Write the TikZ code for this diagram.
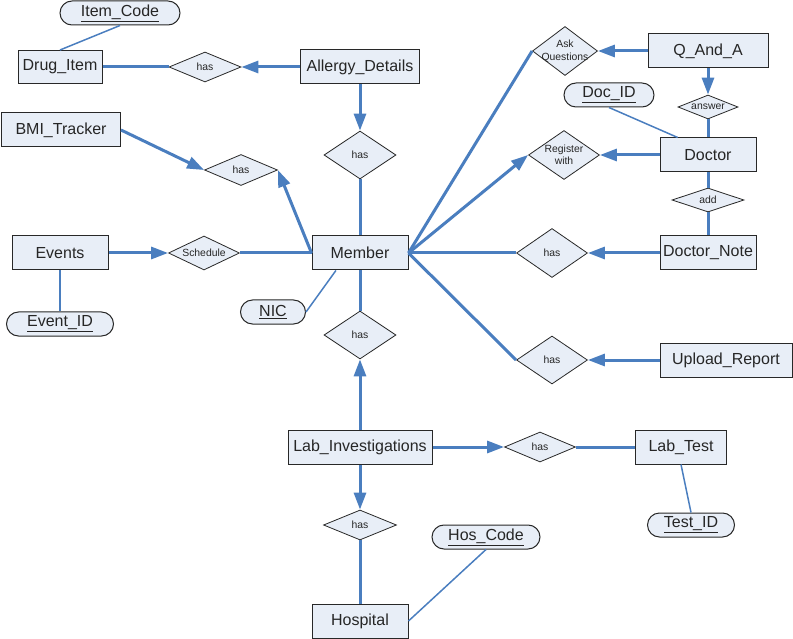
\documentclass[tikz,border=0pt]{standalone}
\usepackage{fontspec}
\setmainfont{Liberation Sans}
\usetikzlibrary{shapes.geometric,arrows.meta}
\definecolor{erline}{RGB}{74,126,191}
\definecolor{erfill}{RGB}{232,238,247}
\definecolor{erborder}{RGB}{40,40,40}

\begin{document}
\begin{tikzpicture}[x=1pt,y=-1pt,
  entity/.style={draw=erborder,fill=erfill,line width=1pt,minimum height=34pt,inner sep=2pt,font=\fontsize{16}{19}\selectfont,text=black!85},
  attrib/.style={draw=erborder,fill=erfill,line width=1pt,rounded corners=12pt,minimum height=24pt,inner sep=2pt,font=\fontsize{16}{19}\selectfont,text=black!85},
  rel/.style={diamond,draw=erborder,fill=erfill,line width=0.8pt,inner sep=0pt,aspect=2,font=\fontsize{10.4}{12.5}\selectfont,text=black!85,align=center},
  link/.style={draw=erline,line width=3pt},
  tolink/.style={link,-{Triangle[length=17pt,width=12pt]}},
  keylink/.style={draw=erline,line width=1.5pt}]
\useasboundingbox (0,0) rectangle (793,639);

\node[attrib,minimum width=120pt] (itemcode) at (120,13) {\underline{Item\_Code}};
\node[entity,minimum width=84pt,minimum height=33pt] (drugitem) at (60,67) {Drug\_Item};
\node[rel,minimum width=72pt,minimum height=30pt] (hasdrug) at (205,67) {has};
\node[entity,minimum width=119pt] (allergy) at (360,67) {Allergy\_Details};
\node[rel,minimum width=72pt,minimum height=48pt] (hasallergy) at (360,155) {has};
\node[entity,minimum width=119pt] (bmi) at (61,130) {BMI\_Tracker};
\node[rel,minimum width=73pt,minimum height=31pt] (hasbmi) at (241,170) {has};

\node[rel,aspect=1.33,inner xsep=-6.5pt,minimum width=65pt,minimum height=49pt] (askq) at (565,51) {Ask\\Questions};
\node[entity,minimum width=120pt] (qanda) at (708,51) {Q\_And\_A};
\node[attrib,minimum width=90pt] (docid) at (609,95) {\underline{Doc\_ID}};
\node[rel,minimum width=60pt,minimum height=24pt] (answer) at (708,107) {answer};
\node[entity,minimum width=96pt] (doctor) at (708,155) {Doctor};
\node[rel,aspect=1.45,inner xsep=-1pt,minimum width=71pt,minimum height=49pt] (register) at (564,155) {Register\\with};
\node[rel,minimum width=72pt,minimum height=24pt] (add) at (708,200) {add};

\node[entity,minimum width=96pt] (events) at (60,253) {Events};
\node[rel,minimum width=71pt,minimum height=34pt] (schedule) at (204,253) {Schedule};
\node[entity,minimum width=96pt] (member) at (360,253) {Member};
\node[attrib,minimum width=107pt] (eventid) at (60,324) {\underline{Event\_ID}};
\node[attrib,minimum width=65pt] (nic) at (273,312) {\underline{NIC}};
\node[rel,minimum width=71pt,minimum height=49pt] (hasnote) at (552,253) {has};
\node[entity,minimum width=96pt] (docnote) at (708,253) {Doctor\_Note};
\node[rel,minimum width=71pt,minimum height=48pt] (hasreport) at (552,360) {has};
\node[entity,minimum width=132pt] (upload) at (726,360) {Upload\_Report};

\node[rel,minimum width=72pt,minimum height=48pt] (hasmember) at (360,335) {has};
\node[entity,minimum width=144pt] (labinv) at (360,447) {Lab\_Investigations};
\node[rel,minimum width=71pt,minimum height=30pt] (haslabtest) at (540,447) {has};
\node[entity,minimum width=91pt] (labtest) at (681,447) {Lab\_Test};
\node[attrib,minimum width=87pt] (testid) at (691,525) {\underline{Test\_ID}};
\node[rel,minimum width=73pt,minimum height=30pt] (hashospital) at (360,525) {has};
\node[attrib,minimum width=108pt] (hoscode) at (486,537) {\underline{Hos\_Code}};
\node[entity,minimum width=96pt] (hospital) at (360,621) {Hospital};

\draw[keylink] (itemcode.south) -- (drugitem.north);
\draw[link] (drugitem.east) -- (hasdrug.west);
\draw[tolink] (allergy.west) -- (hasdrug.east);
\draw[tolink] (allergy.south) -- (hasallergy.north);
\draw[link] (hasallergy.south) -- (member.north);
\draw[tolink] (bmi.east) -- (hasbmi.west);
\draw[tolink] (member.west) -- (hasbmi.east);
\draw[tolink] (events.east) -- (schedule.west);
\draw[link] (schedule.east) -- (member.west);
\draw[keylink] (events.south) -- (eventid.north);
\draw[keylink] (nic.east) -- (member.216);

\draw[link] (member.east) -- (askq.west);
\draw[tolink] (qanda.west) -- (askq.east);
\draw[tolink] (qanda.south) -- (answer.north);
\draw[link] (answer.south) -- (doctor.north);
\draw[keylink] (docid.south) -- (doctor.150);
\draw[tolink] (member.east) -- (register.west);
\draw[tolink] (doctor.west) -- (register.east);
\draw[link] (doctor.south) -- (add.north);
\draw[link] (add.south) -- (docnote.north);
\draw[link] (member.east) -- (hasnote.west);
\draw[tolink] (docnote.west) -- (hasnote.east);
\draw[link] (member.east) -- (hasreport.west);
\draw[tolink] (upload.west) -- (hasreport.east);

\draw[link] (member.south) -- (hasmember.north);
\draw[tolink] (labinv.north) -- (hasmember.south);
\draw[tolink] (labinv.east) -- (haslabtest.west);
\draw[link] (haslabtest.east) -- (labtest.west);
\draw[keylink] (labtest.south) -- (testid.north);
\draw[tolink] (labinv.south) -- (hashospital.north);
\draw[link] (hashospital.south) -- (hospital.north);
\draw[keylink] (hoscode.south) -- (hospital.east);
\end{tikzpicture}
\end{document}
